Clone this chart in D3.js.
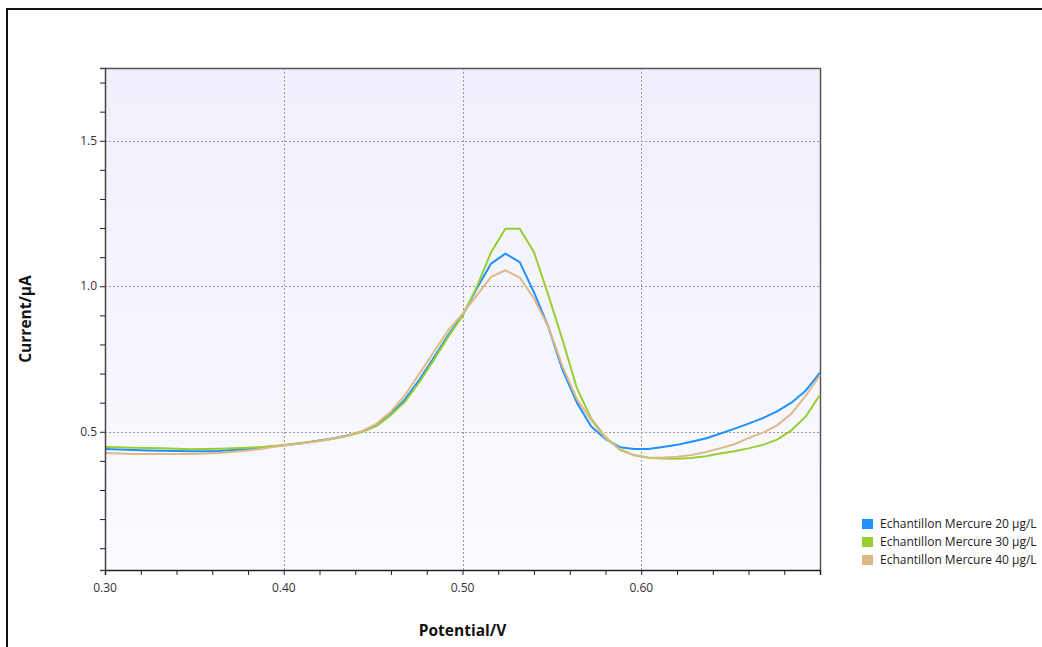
<!DOCTYPE html>
<html>
<head>
<meta charset="utf-8">
<script src="https://cdn.jsdelivr.net/npm/d3@7"></script>
<style>
  body { margin: 0; background: #fff; }
  svg { display: block; font-family: "Open Sans", "Noto Sans", sans-serif; }
</style>
</head>
<body>
<div id="chart"></div>
<script>
// Sample potentials (V)
const potential = [
  0.300, 0.308, 0.316, 0.324, 0.332, 0.340, 0.348, 0.356, 0.364, 0.372,
  0.380, 0.388, 0.396, 0.404, 0.412, 0.420, 0.428, 0.436, 0.444, 0.452,
  0.460, 0.468, 0.476, 0.484, 0.492, 0.500, 0.508, 0.516, 0.524, 0.532,
  0.540, 0.548, 0.556, 0.564, 0.572, 0.580, 0.588, 0.596, 0.604, 0.612,
  0.620, 0.628, 0.636, 0.644, 0.652, 0.660, 0.668, 0.676, 0.684, 0.692,
  0.700
];

// Currents (µA) for each sample
const current20 = [
  0.441, 0.439, 0.437, 0.436, 0.435, 0.434, 0.433, 0.433, 0.434, 0.437,
  0.441, 0.446, 0.451, 0.456, 0.462, 0.470, 0.478, 0.488, 0.501, 0.522,
  0.562, 0.612, 0.680, 0.755, 0.832, 0.900, 0.992, 1.078, 1.112, 1.083,
  0.979, 0.861, 0.712, 0.600, 0.518, 0.475, 0.447, 0.441, 0.441, 0.448,
  0.455, 0.466, 0.477, 0.493, 0.510, 0.528, 0.547, 0.570, 0.600, 0.641,
  0.703
];
const current30 = [
  0.448, 0.447, 0.445, 0.444, 0.443, 0.442, 0.440, 0.441, 0.442, 0.443,
  0.445, 0.448, 0.452, 0.457, 0.463, 0.469, 0.476, 0.486, 0.500, 0.520,
  0.558, 0.604, 0.672, 0.747, 0.826, 0.898, 0.998, 1.117, 1.198, 1.198,
  1.117, 0.970, 0.815, 0.650, 0.545, 0.482, 0.438, 0.419, 0.411, 0.408,
  0.407, 0.410, 0.416, 0.425, 0.433, 0.443, 0.455, 0.473, 0.505, 0.552,
  0.627
];
const current40 = [
  0.427, 0.425, 0.424, 0.424, 0.424, 0.424, 0.424, 0.425, 0.427, 0.431,
  0.436, 0.442, 0.449, 0.455, 0.461, 0.468, 0.477, 0.488, 0.503, 0.528,
  0.570, 0.627, 0.701, 0.775, 0.849, 0.905, 0.969, 1.032, 1.055, 1.030,
  0.958, 0.861, 0.724, 0.612, 0.540, 0.478, 0.441, 0.420, 0.412, 0.411,
  0.414, 0.420, 0.430, 0.443, 0.457, 0.478, 0.497, 0.522, 0.562, 0.623,
  0.695
];

const seriesNames = [
  "Echantillon Mercure 20 µg/L",
  "Echantillon Mercure 30 µg/L",
  "Echantillon Mercure 40 µg/L"
];
const seriesColors = ["#1e90ff", "#9acd32", "#deb887"];

const xTickValues = [0.30, 0.40, 0.50, 0.60];
const yTickValues = [0.5, 1.0, 1.5];

const width = 1042;
const height = 647;
const plot = { left: 105, top: 68, right: 820, bottom: 570 };

const svg = d3.select("#chart")
  .append("svg")
  .attr("width", width)
  .attr("height", height);

// Outer frame (only top and left edges visible in the crop)
svg.append("rect")
  .attr("x", 7)
  .attr("y", 9)
  .attr("width", width + 20)
  .attr("height", height + 20)
  .attr("fill", "none")
  .attr("stroke", "#111")
  .attr("stroke-width", 2);

const x = d3.scaleLinear().domain([0.30, 0.70]).range([plot.left, plot.right]);
const y = d3.scaleLinear().domain([0.025, 1.75]).range([plot.bottom, plot.top]);

// Plot background gradient
const grad = svg.append("defs").append("linearGradient")
  .attr("id", "bg")
  .attr("x1", 0).attr("y1", 0).attr("x2", 0).attr("y2", 1);
grad.append("stop").attr("offset", "0%").attr("stop-color", "#f0f0fc");
grad.append("stop").attr("offset", "100%").attr("stop-color", "#fafaff");

svg.append("rect")
  .attr("x", plot.left)
  .attr("y", plot.top)
  .attr("width", plot.right - plot.left)
  .attr("height", plot.bottom - plot.top)
  .attr("fill", "url(#bg)");

// Grid lines
svg.append("g")
  .selectAll("line")
  .data(xTickValues.slice(1))
  .enter().append("line")
  .attr("x1", d => Math.round(x(d)) + 0.5)
  .attr("x2", d => Math.round(x(d)) + 0.5)
  .attr("y1", plot.top)
  .attr("y2", plot.bottom)
  .attr("stroke", "#999")
  .attr("stroke-dasharray", "2,2");

svg.append("g")
  .selectAll("line")
  .data(yTickValues)
  .enter().append("line")
  .attr("x1", plot.left)
  .attr("x2", plot.right)
  .attr("y1", d => Math.round(y(d)) + 0.5)
  .attr("y2", d => Math.round(y(d)) + 0.5)
  .attr("stroke", "#999")
  .attr("stroke-dasharray", "2,2");

// Frame top and right
svg.append("path")
  .attr("d", `M${plot.left},${plot.top + 0.5}H${plot.right + 0.5}V${plot.bottom}`)
  .attr("fill", "none")
  .attr("stroke", "#555")
  .attr("stroke-width", 1.5);

// Curves
const line = d3.line()
  .x((d, i) => x(potential[i]))
  .y(d => y(d));

svg.append("g")
  .selectAll("path")
  .data([current20, current30, current40])
  .enter().append("path")
  .attr("d", d => line(d))
  .attr("fill", "none")
  .attr("stroke", (d, i) => seriesColors[i])
  .attr("stroke-width", 2)
  .attr("stroke-linejoin", "round");

// X axis: minor ticks every 0.02, labels every 0.1
const xAxis = svg.append("g")
  .attr("transform", `translate(0,${plot.bottom})`)
  .call(d3.axisBottom(x)
    .tickValues(d3.range(0.30, 0.7001, 0.02))
    .tickSize(5)
    .tickFormat(""));
xAxis.select(".domain").attr("stroke", "#222").attr("stroke-width", 1.5);
xAxis.selectAll(".tick line").attr("stroke", "#222");

svg.append("g")
  .selectAll("text")
  .data(xTickValues)
  .enter().append("text")
  .attr("x", d => x(d))
  .attr("y", plot.bottom + 22)
  .attr("text-anchor", "middle")
  .attr("font-size", "12px")
  .attr("fill", "#333")
  .text(d => d3.format(".2f")(d));

// Y axis: minor ticks every 0.1, labels every 0.5
const yAxis = svg.append("g")
  .attr("transform", `translate(${plot.left},0)`)
  .call(d3.axisLeft(y)
    .tickValues(d3.range(0.1, 1.71, 0.1))
    .tickSize(5)
    .tickFormat(""));
yAxis.select(".domain").attr("stroke", "#444").attr("stroke-width", 1.5);
yAxis.selectAll(".tick line").attr("stroke", "#222");

svg.append("g")
  .selectAll("text")
  .data(yTickValues)
  .enter().append("text")
  .attr("x", plot.left - 8)
  .attr("y", d => y(d))
  .attr("dy", "0.35em")
  .attr("text-anchor", "end")
  .attr("font-size", "12px")
  .attr("fill", "#333")
  .text(d => d3.format(".1f")(d));

// Axis titles
svg.append("text")
  .attr("x", (plot.left + plot.right) / 2)
  .attr("y", 636)
  .attr("text-anchor", "middle")
  .attr("font-size", "15.5px")
  .attr("font-weight", "bold")
  .attr("fill", "#111")
  .text("Potential/V");

svg.append("text")
  .attr("transform", `translate(31,${(plot.top + plot.bottom) / 2}) rotate(-90)`)
  .attr("text-anchor", "middle")
  .attr("font-size", "15.5px")
  .attr("font-weight", "bold")
  .attr("fill", "#111")
  .text("Current/µA");

// Legend
const legend = svg.append("g")
  .selectAll("g")
  .data(seriesNames)
  .enter().append("g")
  .attr("transform", (d, i) => `translate(862,${519 + i * 18})`);

legend.append("rect")
  .attr("width", 11)
  .attr("height", 10)
  .attr("fill", (d, i) => seriesColors[i]);

legend.append("text")
  .attr("x", 18)
  .attr("y", 5)
  .attr("dy", "0.35em")
  .attr("font-size", "12px")
  .attr("fill", "#222")
  .text(d => d);
</script>
</body>
</html>
